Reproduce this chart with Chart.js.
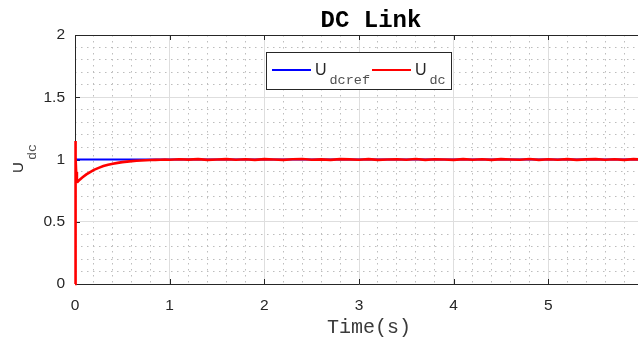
<!DOCTYPE html>
<html><head><meta charset="utf-8">
<style>
html,body{margin:0;padding:0;background:#fff;overflow:hidden;width:638px;height:338px}
canvas{display:block}
</style>
<script src="https://cdn.jsdelivr.net/npm/chart.js@4/dist/chart.umd.min.js"></script>
</head><body>
<canvas id="c" width="650" height="338"></canvas>
<script>
const titleText = "DC Link";
const xLabel = "Time(s)";
const yLabelMain = "U";
const yLabelSub = "dc";
const legendMain = ["U", "U"];
const legendSub = ["dcref", "dc"];

const refTime = [0, 6];
const refValues = [1, 1];

const dcTime = [0, 0.004, 0.008, 0.012, 0.02, 0.03, 0.05, 0.08, 0.12, 0.16, 0.2, 0.25, 0.3, 0.35, 0.4, 0.45, 0.5, 0.55, 0.6, 0.65, 0.7, 0.75, 0.8, 0.85, 0.9, 0.95,
  1.0, 1.1, 1.2, 1.3, 1.4, 1.5, 1.6, 1.7, 1.8, 1.9, 2.0, 2.1, 2.2, 2.3, 2.4, 2.5, 2.6, 2.7, 2.8, 2.9, 3.0, 3.1, 3.2, 3.3, 3.4, 3.5, 3.6, 3.7, 3.8, 3.9,
  4.0, 4.1, 4.2, 4.3, 4.4, 4.5, 4.6, 4.7, 4.8, 4.9, 5.0, 5.1, 5.2, 5.3, 5.4, 5.5, 5.6, 5.7, 5.8, 5.9, 6.0];
const dcValues = [0, 1.148, 1.02, 0.90, 0.83, 0.822, 0.838, 0.857, 0.880, 0.899, 0.917, 0.933, 0.947, 0.958, 0.966, 0.973, 0.979, 0.983, 0.987, 0.990, 0.992, 0.994, 0.996, 0.997, 0.998, 0.999,
  0.998, 1.002, 0.999, 1.003, 0.997, 1.000, 1.003, 0.998, 1.002, 0.997, 1.003, 1.000, 0.997, 1.002, 1.004, 0.998, 1.001, 0.997, 1.003, 1.001, 0.998, 1.003, 0.997, 1.000, 1.002, 0.998, 1.004, 0.997, 1.002, 1.000,
  0.997, 1.003, 0.998, 1.002, 0.997, 1.003, 1.000, 0.998, 1.004, 0.997, 1.002, 0.998, 1.003, 0.997, 1.001, 1.003, 0.998, 1.002, 0.997, 1.003, 1.000];

const xTickValues = [0, 1, 2, 3, 4, 5, 6];
const yTickValues = [0, 0.5, 1, 1.5, 2];

const AX = '#262626';
const tickFont = {family: '"Liberation Sans", Arial, sans-serif', size: 15.5};

function toPoints(t, v) { return t.map((x, i) => ({x: x, y: v[i]})); }
function fmt(v) { return String(Number(v.toFixed(2))); }

const decor = {
  id: 'decor',
  beforeDatasetsDraw(chart) {
    const ctx = chart.ctx, a = chart.chartArea;
    const xs = chart.scales.x, ys = chart.scales.y;
    ctx.save();
    ctx.strokeStyle = AX; ctx.lineWidth = 1;
    ctx.beginPath();
    ctx.moveTo(a.left, a.top + 0.5); ctx.lineTo(a.right, a.top + 0.5);
    xTickValues.forEach(v => {
      const px = Math.round(xs.getPixelForValue(v)) + 0.5;
      ctx.moveTo(px, a.bottom); ctx.lineTo(px, a.bottom - 5);
      ctx.moveTo(px, a.top); ctx.lineTo(px, a.top + 5);
    });
    yTickValues.forEach(v => {
      const py = Math.round(ys.getPixelForValue(v)) + 0.5;
      ctx.moveTo(a.left, py); ctx.lineTo(a.left + 5, py);
    });
    ctx.stroke();
    ctx.restore();
  },
  afterDraw(chart) {
    const ctx = chart.ctx;
    ctx.save();
    // title
    ctx.fillStyle = '#000';
    ctx.font = 'bold 24px "Liberation Mono", monospace';
    ctx.textAlign = 'center'; ctx.textBaseline = 'alphabetic';
    ctx.fillText(titleText, 371, 27);
    // x label
    ctx.fillStyle = '#3a3a3a';
    ctx.font = '20px "Liberation Mono", monospace';
    ctx.fillText(xLabel, 369, 333);
    // y label
    ctx.save();
    ctx.translate(22.5, 173);
    ctx.rotate(-Math.PI / 2);
    ctx.textAlign = 'left';
    ctx.fillStyle = AX;
    ctx.font = '15px "Liberation Sans", sans-serif';
    ctx.fillText(yLabelMain, 0, 0);
    ctx.fillStyle = '#505050';
    ctx.font = '13.5px "Liberation Mono", monospace';
    ctx.fillText(yLabelSub, 13, 13.5);
    ctx.restore();
    // legend
    const bx = 266.5, by = 52.5, bw = 185, bh = 37;
    ctx.fillStyle = '#fff';
    ctx.fillRect(bx, by, bw, bh);
    ctx.strokeStyle = AX; ctx.lineWidth = 1;
    ctx.strokeRect(bx, by, bw, bh);
    const cols = ['#0000ff', '#ff0000'];
    const lx = [272, 372];
    ctx.textAlign = 'left';
    for (let i = 0; i < 2; i++) {
      ctx.strokeStyle = cols[i]; ctx.lineWidth = 2;
      ctx.beginPath(); ctx.moveTo(lx[i], 70); ctx.lineTo(lx[i] + 39, 70); ctx.stroke();
      ctx.fillStyle = AX;
      ctx.font = '16px "Liberation Sans", sans-serif';
      ctx.fillText(legendMain[i], lx[i] + 43, 74.5);
      ctx.fillStyle = '#505050';
      ctx.font = '13.5px "Liberation Mono", monospace';
      ctx.fillText(legendSub[i], lx[i] + 57.5, 83.5);
    }
    ctx.restore();
  }
};

const minorColor = (major) => (c) => {
  const v = c.tick.value;
  return Math.abs(v / major - Math.round(v / major)) < 1e-6 ? 'rgba(0,0,0,0)' : '#bdbdbd';
};

function fixX(h) { return (s) => { s.height = h; s.paddingLeft = 0; s.paddingRight = 0; }; }
function fixY(w) { return (s) => { s.width = w; s.paddingTop = 0; s.paddingBottom = 0; }; }

new Chart(document.getElementById('c'), {
  type: 'line',
  data: {
    datasets: [
      {label: 'Udcref', data: toPoints(refTime, refValues), borderColor: '#0000ff', borderWidth: 2, pointRadius: 0, tension: 0, clip: 4, order: 2},
      {label: 'Udc', data: toPoints(dcTime, dcValues), borderColor: '#ff0000', borderWidth: 2.6, pointRadius: 0, tension: 0, clip: 4, order: 1}
    ]
  },
  options: {
    responsive: false,
    animation: false,
    events: [],
    layout: {padding: {top: 35, right: 7, left: 0, bottom: 0}},
    plugins: {legend: {display: false}, title: {display: false}, tooltip: {enabled: false}},
    scales: {
      xMinor: {
        type: 'linear', position: 'bottom', min: 0, max: 6,
        ticks: {display: false, stepSize: 0.2},
        grid: {color: minorColor(1), drawTicks: false, lineWidth: 1},
        border: {display: false, dash: [1.5, 4.5]},
        afterFit: fixX(0)
      },
      yMinor: {
        type: 'linear', position: 'left', min: 0, max: 2,
        ticks: {display: false, stepSize: 0.1},
        grid: {color: minorColor(0.5), drawTicks: false, lineWidth: 1},
        border: {display: false, dash: [1.5, 4.5]},
        afterFit: fixY(0)
      },
      x: {
        type: 'linear', position: 'bottom', min: 0, max: 6,
        ticks: {stepSize: 1, color: AX, font: tickFont, padding: 12, maxRotation: 0, callback: fmt},
        grid: {color: '#dedede', drawTicks: false, lineWidth: 1},
        border: {display: true, color: AX, width: 1},
        afterFit: fixX(54)
      },
      y: {
        type: 'linear', position: 'left', min: 0, max: 2,
        ticks: {stepSize: 0.5, color: AX, font: tickFont, padding: 10, callback: fmt},
        grid: {color: '#dedede', drawTicks: false, lineWidth: 1},
        border: {display: true, color: AX, width: 1},
        afterFit: fixY(75)
      }
    }
  },
  plugins: [decor]
});
</script>
</body></html>
